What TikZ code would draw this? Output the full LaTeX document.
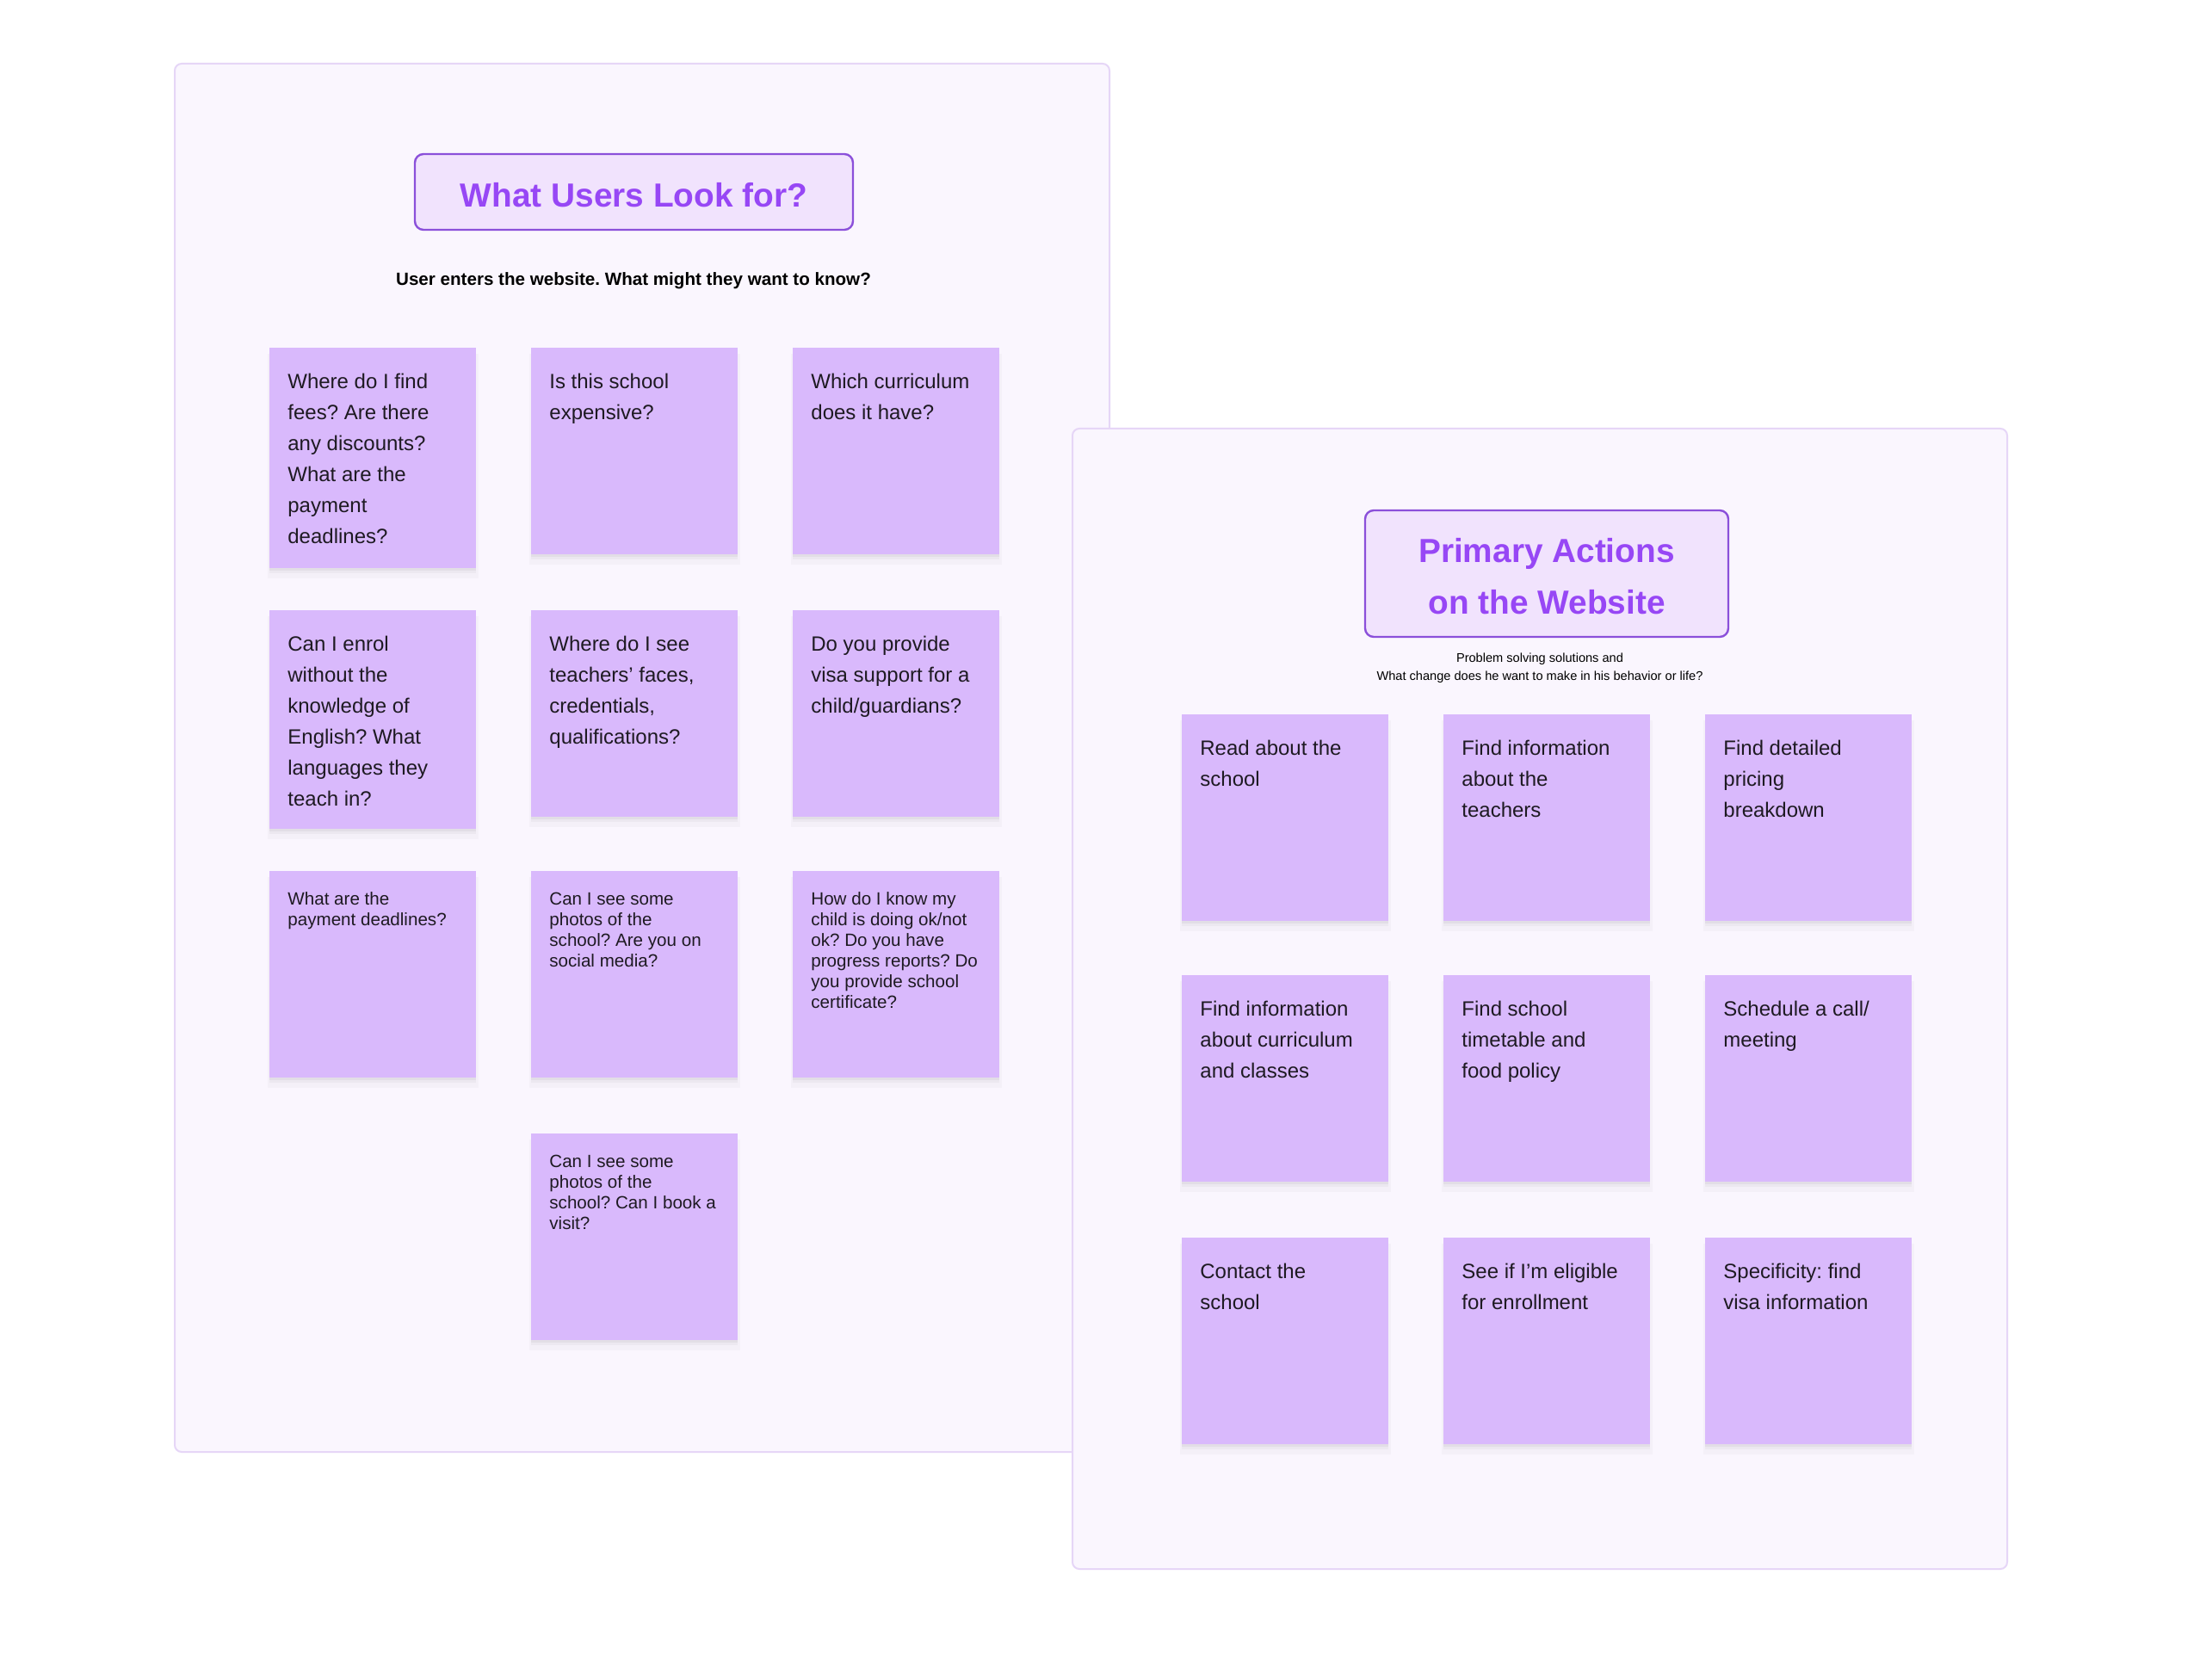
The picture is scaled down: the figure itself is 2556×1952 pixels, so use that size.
\documentclass[tikz,border=0pt]{standalone}
\usepackage{fontspec}
\setmainfont{Liberation Sans}
\frenchspacing
\usetikzlibrary{shadows}
\definecolor{panelfill}{HTML}{FAF6FE}
\definecolor{panelline}{HTML}{E6D6F7}
\definecolor{notefill}{HTML}{D9B9FC}
\definecolor{titlefill}{HTML}{F1E3FD}
\definecolor{titleline}{HTML}{8B50DA}
\definecolor{titletext}{HTML}{9747F5}
\definecolor{inktext}{HTML}{1E1A22}
\begin{document}
\begin{tikzpicture}[x=0.5pt,y=-0.5pt,
  panel/.style={draw=panelline, fill=panelfill, line width=1pt, rounded corners=4pt, anchor=north west, inner sep=0pt},
  sticky/.style={fill=notefill, draw=none, minimum width=120pt, minimum height=120pt, inner sep=0pt, anchor=north west,
    drop shadow={shadow xshift=0pt, shadow yshift=-4.5pt, opacity=0.025, fill=black, shadow scale=1.02},
    drop shadow={shadow xshift=0pt, shadow yshift=-3pt, opacity=0.03, fill=black},
    drop shadow={shadow xshift=0pt, shadow yshift=-1.5pt, opacity=0.04, fill=black}},
  bigtext/.style={anchor=north west, inner sep=0pt, align=left, text=inktext, font=\fontsize{12}{18}\selectfont},
  smalltext/.style={anchor=north west, inner sep=0pt, align=left, text=inktext, font=\fontsize{10.3}{12}\selectfont},
  titlebox/.style={draw=titleline, fill=titlefill, line width=1.2pt, rounded corners=5pt, inner sep=0pt},
  titletxt/.style={inner sep=0pt, text=titletext, align=center, font=\fontsize{19.4}{30}\selectfont\bfseries},
  subbold/.style={inner sep=0pt, align=center, text=black, font=\fontsize{10.3}{12}\selectfont\bfseries},
  subreg/.style={inner sep=0pt, align=center, text=black, font=\fontsize{7.3}{10.5}\selectfont}
]
\useasboundingbox[fill=white] (0,0) rectangle (2556,1952);

% ---------- left panel ----------
\node[panel, minimum width=543pt, minimum height=806.5pt] (lp) at (202,73) {};
\node[titlebox, minimum width=254.5pt, minimum height=44pt] (lt) at (736.5,223) {};
\node[titletxt] (ltt) at (736.5,226.5) {What Users Look for?};
\node[subbold] (ls) at (736,326) {User enters the website. What might they want to know?};

\node[sticky, minimum height=128pt] (a1) at (313,404) {};
\node[sticky] (a2) at (617,404) {};
\node[sticky] (a3) at (921,404) {};
\node[sticky, minimum height=127pt] (b1) at (313,709) {};
\node[sticky] (b2) at (617,709) {};
\node[sticky] (b3) at (921,709) {};
\node[sticky] (c1) at (313,1012) {};
\node[sticky] (c2) at (617,1012) {};
\node[sticky] (c3) at (921,1012) {};
\node[sticky] (d2) at (617,1317) {};

\node[bigtext] (a1t) at ([xshift=10.5pt,yshift=-11pt]a1.north west) {\strut Where do I find\\fees? Are there\\any discounts?\\What are the\\payment\\deadlines?};
\node[bigtext] (a2t) at ([xshift=10.5pt,yshift=-11pt]a2.north west) {\strut Is this school\\expensive?};
\node[bigtext] (a3t) at ([xshift=10.5pt,yshift=-11pt]a3.north west) {\strut Which curriculum\\does it have?};
\node[bigtext] (b1t) at ([xshift=10.5pt,yshift=-11pt]b1.north west) {\strut Can I enrol\\without the\\knowledge of\\English? What\\languages they\\teach in?};
\node[bigtext] (b2t) at ([xshift=10.5pt,yshift=-11pt]b2.north west) {\strut Where do I see\\teachers’ faces,\\credentials,\\qualifications?};
\node[bigtext] (b3t) at ([xshift=10.5pt,yshift=-11pt]b3.north west) {\strut Do you provide\\visa support for a\\child/guardians?};
\node[smalltext] (c1t) at ([xshift=10.5pt,yshift=-11.3pt]c1.north west) {\strut What are the\\payment deadlines?};
\node[smalltext] (c2t) at ([xshift=10.5pt,yshift=-11.3pt]c2.north west) {\strut Can I see some\\photos of the\\school? Are you on\\social media?};
\node[smalltext] (c3t) at ([xshift=10.5pt,yshift=-11.3pt]c3.north west) {\strut How do I know my\\child is doing ok/not\\ok? Do you have\\progress reports? Do\\you provide school\\certificate?};
\node[smalltext] (d2t) at ([xshift=10.5pt,yshift=-11.3pt]d2.north west) {\strut Can I see some\\photos of the\\school? Can I book a\\visit?};

% ---------- right panel ----------
\node[panel, minimum width=543pt, minimum height=662.5pt] (rp) at (1245,497) {};
\node[titlebox, minimum width=211pt, minimum height=73.5pt] (rt) at (1797,666.5) {};
\node[titletxt] (rtt) at (1797,670) {Primary Actions\\on the Website};
\node[subreg] (rs) at (1789,776.5) {Problem solving solutions and\\What change does he want to make in his behavior or life?};

\node[sticky] (e1) at (1373,830) {};
\node[sticky] (e2) at (1677,830) {};
\node[sticky] (e3) at (1981,830) {};
\node[sticky] (f1) at (1373,1133) {};
\node[sticky] (f2) at (1677,1133) {};
\node[sticky] (f3) at (1981,1133) {};
\node[sticky] (g1) at (1373,1438) {};
\node[sticky] (g2) at (1677,1438) {};
\node[sticky] (g3) at (1981,1438) {};

\node[bigtext] (e1t) at ([xshift=10.5pt,yshift=-11pt]e1.north west) {\strut Read about the\\school};
\node[bigtext] (e2t) at ([xshift=10.5pt,yshift=-11pt]e2.north west) {\strut Find information\\about the\\teachers};
\node[bigtext] (e3t) at ([xshift=10.5pt,yshift=-11pt]e3.north west) {\strut Find detailed\\pricing\\breakdown};
\node[bigtext] (f1t) at ([xshift=10.5pt,yshift=-11pt]f1.north west) {\strut Find information\\about curriculum\\and classes};
\node[bigtext] (f2t) at ([xshift=10.5pt,yshift=-11pt]f2.north west) {\strut Find school\\timetable and\\food policy};
\node[bigtext] (f3t) at ([xshift=10.5pt,yshift=-11pt]f3.north west) {\strut Schedule a call/\\meeting};
\node[bigtext] (g1t) at ([xshift=10.5pt,yshift=-11pt]g1.north west) {\strut Contact the\\school};
\node[bigtext] (g2t) at ([xshift=10.5pt,yshift=-11pt]g2.north west) {\strut See if I’m eligible\\for enrollment};
\node[bigtext] (g3t) at ([xshift=10.5pt,yshift=-11pt]g3.north west) {\strut Specificity: find\\visa information};
\end{tikzpicture}
\end{document}
